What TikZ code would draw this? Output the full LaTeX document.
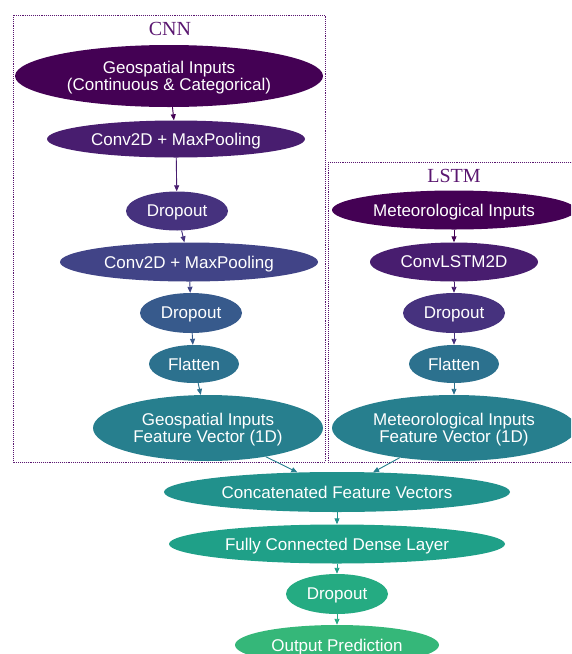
\documentclass[tikz,border=0pt]{standalone}
\usepackage{fontspec}
\setmainfont{Liberation Serif}
\setsansfont{Liberation Sans}
\usetikzlibrary{arrows.meta,shapes.geometric}

\definecolor{vira}{HTML}{440154}
\definecolor{virb}{HTML}{481D6F}
\definecolor{virc}{HTML}{46327E}
\definecolor{vird}{HTML}{414487}
\definecolor{vire}{HTML}{375A8C}
\definecolor{virf}{HTML}{2C718E}
\definecolor{virg}{HTML}{277F8E}
\definecolor{virh}{HTML}{21918C}
\definecolor{viri}{HTML}{1FA088}
\definecolor{virj}{HTML}{25AB82}
\definecolor{virk}{HTML}{35B779}
\definecolor{clus}{HTML}{5A1670}

\begin{document}
\begin{tikzpicture}[
    x=1pt, y=-1pt,
    >={Triangle[length=6pt,width=5pt]},
    layer/.style={ellipse, fill=#1, text=white, inner sep=0pt, align=center,
        text depth=-6pt, font=\sffamily\fontsize{17}{17}\selectfont},
    cluster/.style={draw=clus, densely dotted, line width=0.9pt},
    title/.style={text=clus, font=\rmfamily\fontsize{20}{20}\selectfont},
    flow/.style={->, line width=0.9pt, draw=#1, fill=#1}
]
\clip (0,0) rectangle (571,654);

% Clusters
\draw[cluster] (13,15) rectangle (325,462);
\draw[cluster] (328,162) rectangle (590,462);
\node[title] (cnnlbl)  at (170,29)  {CNN};
\node[title] (lstmlbl) at (454,176) {LSTM};

% CNN branch
\node[layer=vira, minimum width=308, minimum height=62] (geo)   at (169,76)  {Geospatial Inputs\\(Continuous \& Categorical)};
\node[layer=virb, minimum width=258, minimum height=37] (conva) at (176,139) {Conv2D + MaxPooling};
\node[layer=virc, minimum width=102, minimum height=39] (dropa) at (177,211) {Dropout};
\node[layer=vird, minimum width=258, minimum height=39] (convb) at (189,262) {Conv2D + MaxPooling};
\node[layer=vire, minimum width=102, minimum height=40] (dropb) at (191,313) {Dropout};
\node[layer=virf, minimum width=90,  minimum height=38] (flata) at (194,364) {Flatten};
\node[layer=virg, minimum width=230, minimum height=66] (geofv) at (208,428) {Geospatial Inputs\\Feature Vector (1D)};

% LSTM branch
\node[layer=vira, minimum width=244, minimum height=39] (met)   at (454,210) {Meteorological Inputs};
\node[layer=virb, minimum width=168, minimum height=39] (convl) at (454,262) {ConvLSTM2D};
\node[layer=virc, minimum width=102, minimum height=40] (dropc) at (454,313) {Dropout};
\node[layer=virf, minimum width=90,  minimum height=38] (flatb) at (454,364) {Flatten};
\node[layer=virg, minimum width=244, minimum height=66] (metfv) at (454,428) {Meteorological Inputs\\Feature Vector (1D)};

% Merged head
\node[layer=virh, minimum width=346, minimum height=40] (concat) at (337,492) {Concatenated Feature Vectors};
\node[layer=viri, minimum width=336, minimum height=39] (dense)  at (337,544) {Fully Connected Dense Layer};
\node[layer=virj, minimum width=102, minimum height=40] (dropd)  at (337,594) {Dropout};
\node[layer=virk, minimum width=204, minimum height=40] (output) at (337,645) {Output Prediction};

% Connections
\path (geo)    edge [flow=vira] (conva)
      (conva)  edge [flow=virb] (dropa)
      (dropa)  edge [flow=virc] (convb)
      (convb)  edge [flow=vird] (dropb)
      (dropb)  edge [flow=vire] (flata)
      (flata)  edge [flow=virf] (geofv)
      (met)    edge [flow=vira] (convl)
      (convl)  edge [flow=virb] (dropc)
      (dropc)  edge [flow=virc] (flatb)
      (flatb)  edge [flow=virf] (metfv)
      (geofv)  edge [flow=virg] (concat)
      (metfv)  edge [flow=virg] (concat)
      (concat) edge [flow=virh] (dense)
      (dense)  edge [flow=viri] (dropd)
      (dropd)  edge [flow=virj] (output);

\end{tikzpicture}
\end{document}
